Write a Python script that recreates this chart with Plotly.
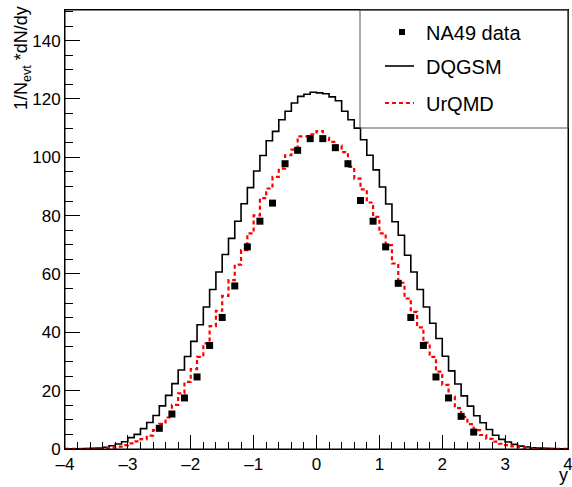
import numpy as np
import plotly.graph_objects as go

# ---- data ----
bin_edges = np.round(np.arange(-4.0, 4.0001, 0.1), 1)  # 80 bins of width 0.1

dqgsm = [0.02, 0.04, 0.07, 0.12, 0.2, 0.35, 0.6, 1.1, 1.7, 2.5,
         3.9, 5.0, 7.0, 9.1, 11.5, 14.8, 18.4, 22.4, 27.1, 31.7,
         36.9, 42.6, 48.7, 54.7, 60.7, 66.7, 72.2, 78.1, 84.1, 89.6,
         95.3, 100.6, 105.7, 108.9, 112.9, 115.8, 118.6, 120.9, 121.6, 122.3,
         122.1, 121.8, 120.7, 119.4, 115.8, 112.9, 110.0, 106.0, 100.7, 95.7,
         89.8, 84.0, 77.9, 73.3, 66.4, 60.7, 54.7, 48.7, 43.1, 37.9,
         31.8, 26.8, 22.3, 18.2, 14.7, 11.4, 9.0, 6.7, 4.7, 3.3,
         2.4, 1.6, 1.0, 0.7, 0.45, 0.3, 0.2, 0.12, 0.07, 0.04]

urqmd = [0.02, 0.03, 0.05, 0.08, 0.13, 0.2, 0.32, 0.5, 0.8, 1.3,
         1.9, 2.6, 3.4, 4.6, 6.5, 8.6, 10.8, 15.1, 19.1, 23.0,
         27.4, 31.6, 36.2, 42.1, 47.4, 52.5, 57.9, 63.2, 68.2, 73.9,
         80.1, 86.0, 89.3, 93.3, 96.1, 100.7, 102.6, 107.2, 107.2, 107.9,
         109.0, 106.7, 105.3, 104.0, 101.8, 96.7, 92.7, 89.0, 84.5, 79.6,
         73.9, 69.9, 63.6, 57.0, 51.6, 47.0, 41.7, 36.5, 31.6, 26.5,
         22.0, 18.0, 14.0, 11.0, 8.5, 6.5, 4.8, 3.5, 2.5, 1.8,
         1.3, 0.9, 0.6, 0.4, 0.25, 0.15, 0.1, 0.06, 0.04, 0.02]

na49_y = [-2.5, -2.3, -2.1, -1.9, -1.7, -1.5, -1.3, -1.1, -0.9, -0.7, -0.5, -0.3, -0.1,
          0.1, 0.3, 0.5, 0.7, 0.9, 1.1, 1.3, 1.5, 1.7, 1.9, 2.1, 2.3, 2.5]
na49_dndy = [7.1, 12.0, 17.5, 24.7, 35.5, 45.1, 55.9, 69.3, 78.1, 84.3, 97.8, 102.4, 106.4,
             106.4, 103.3, 97.8, 85.2, 78.1, 69.3, 56.8, 45.1, 35.5, 24.7, 17.5, 11.2, 5.8]

x_ticks = [-4, -3, -2, -1, 0, 1, 2, 3, 4]
y_ticks = [0, 20, 40, 60, 80, 100, 120, 140]

FONT = "Liberation Sans, Arial, Helvetica, sans-serif"

fig = go.Figure()

fig.add_trace(go.Scatter(
    x=bin_edges, y=list(dqgsm) + [dqgsm[-1]], mode="lines", line_shape="hv",
    line=dict(color="black", width=1.6), showlegend=False, name="DQGSM"))

fig.add_trace(go.Scatter(
    x=bin_edges, y=list(urqmd) + [urqmd[-1]], mode="lines", line_shape="hv",
    line=dict(color="#ff0000", width=2.2, dash="4px,3px"), showlegend=False, name="UrQMD"))

fig.add_trace(go.Scatter(
    x=na49_y, y=na49_dndy, mode="markers",
    marker=dict(symbol="square", size=7, color="black"), showlegend=False, name="NA49 data"))

W, H = 572, 487
L, T, R, B = 65, 10, 4, 38
pw, ph = W - L - R, H - T - B

def px(xp):  # window pixel x -> paper
    return (xp - L) / pw

def py(yp):  # window pixel y -> paper
    return (H - B - yp) / ph

shapes = [
    # frame
    dict(type="rect", xref="paper", yref="paper", x0=0, x1=1, y0=0, y1=1,
         line=dict(color="black", width=1), fillcolor="rgba(0,0,0,0)", layer="above"),
    # legend box
    dict(type="rect", xref="paper", yref="paper", x0=px(360), x1=1.0, y0=py(128), y1=1.0,
         line=dict(color="#555555", width=1), fillcolor="rgba(0,0,0,0)"),
    # legend symbols
    dict(type="rect", xref="paper", yref="paper", x0=px(399), x1=px(405), y0=py(35), y1=py(29),
         line=dict(width=0), fillcolor="black"),
    dict(type="line", xref="paper", yref="paper", x0=px(385), x1=px(414), y0=py(66), y1=py(66),
         line=dict(color="black", width=1.6)),
    dict(type="line", xref="paper", yref="paper", x0=px(385), x1=px(414), y0=py(103), y1=py(103),
         line=dict(color="#ff0000", width=2.2, dash="4px,3px")),
]

annotations = [
    dict(text="NA49 data", xref="paper", yref="paper", x=px(424), y=py(33), xanchor="left",
         yanchor="middle", showarrow=False, font=dict(family=FONT, size=20, color="black")),
    dict(text="DQGSM", xref="paper", yref="paper", x=px(424), y=py(67), xanchor="left",
         yanchor="middle", showarrow=False, font=dict(family=FONT, size=20, color="black")),
    dict(text="UrQMD", xref="paper", yref="paper", x=px(424), y=py(104), xanchor="left",
         yanchor="middle", showarrow=False, font=dict(family=FONT, size=20, color="black")),
    dict(text="y", xref="paper", yref="paper", x=px(563), y=py(487), xanchor="center",
         yanchor="bottom", showarrow=False, font=dict(family=FONT, size=18, color="black")),
    dict(text="1/N<sub>evt</sub> *dN/dy", xref="paper", yref="paper", x=px(22), y=py(4),
         xanchor="center", yanchor="top", textangle=-90, showarrow=False,
         font=dict(family=FONT, size=18, color="black")),
]

fig.update_layout(
    width=W, height=H,
    margin=dict(l=L, r=R, t=T, b=B, pad=0, autoexpand=False),
    paper_bgcolor="white", plot_bgcolor="white",
    font=dict(family=FONT, size=17, color="black"),
    shapes=shapes, annotations=annotations,
    showlegend=False,
)

fig.update_xaxes(
    range=[-4, 4], tickmode="array", tickvals=x_ticks, ticktext=[str(v).replace("-", "\u2013") for v in x_ticks],
    ticks="inside", ticklen=14, tickwidth=1, tickcolor="black",
    minor=dict(ticks="inside", ticklen=7, dtick=0.2, tick0=0, tickcolor="black", tickwidth=1),
    showline=True, linecolor="black", linewidth=1, mirror=True, automargin=False,
    ticklabeloverflow="allow",
    showgrid=False, zeroline=False, tickfont=dict(size=17),
)
fig.update_yaxes(
    range=[0, 150.5], tickmode="array", tickvals=y_ticks,
    ticks="inside", ticklen=15, tickwidth=1, tickcolor="black",
    minor=dict(ticks="inside", ticklen=8, dtick=5, tick0=0, tickcolor="black", tickwidth=1),
    showline=True, linecolor="black", linewidth=1, mirror=True, automargin=False,
    ticklabeloverflow="allow",
    showgrid=False, zeroline=False, tickfont=dict(size=17),
)

fig.write_html(
    "out.html",
    config={"displayModeBar": False, "staticPlot": True},
    post_script="document.body.style.margin='0';document.body.style.overflow='hidden';",
)
